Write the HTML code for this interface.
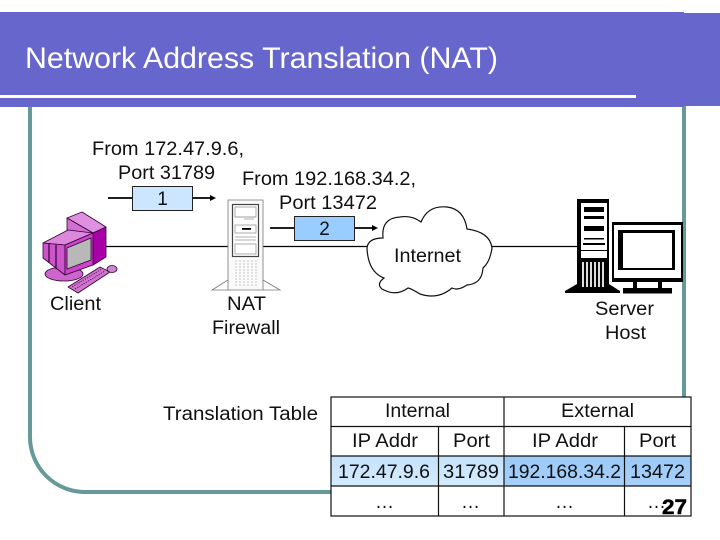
<!DOCTYPE html>
<html>
<head>
<meta charset="utf-8">
<style>
html,body{margin:0;padding:0;background:#fff;width:720px;height:540px;overflow:hidden}
svg{display:block}
text{font-family:"Liberation Sans",Arial,sans-serif;font-size:19px;fill:#111}
</style>
</head>
<body>
<svg width="720" height="540" viewBox="0 0 720 540" xmlns="http://www.w3.org/2000/svg">
<defs>
<linearGradient id="g1" x1="0" y1="0" x2="0" y2="1"><stop offset="0" stop-color="#c4e2fb"/><stop offset="1" stop-color="#d4ebff"/></linearGradient>
<linearGradient id="g2" x1="0" y1="0" x2="0" y2="1"><stop offset="0" stop-color="#9cc9f6"/><stop offset="1" stop-color="#a6d0fa"/></linearGradient>
</defs>
<rect width="720" height="540" fill="#fff"/>

<!-- Frame -->
<path d="M30 105V437A55 55 0 0 0 85 492H335" fill="none" stroke="#669999" stroke-width="4"/>
<path d="M684 105V400" fill="none" stroke="#669999" stroke-width="4"/>

<!-- Header -->
<rect x="0" y="12" width="684" height="95" fill="#6666cc"/>
<rect x="684" y="13" width="36" height="93" fill="#6666cc"/>
<rect x="0" y="95" width="636" height="3" fill="#fff"/>
<text x="25" y="68" style="font-size:30px;fill:#fff" textLength="473" lengthAdjust="spacingAndGlyphs">Network Address Translation (NAT)</text>

<!-- Connection lines -->
<g stroke="#000" fill="none">
<path d="M106 246.500H230M262 246.500H370M491 246.500H582" stroke-width="1.200"/>
<path d="M108 198H132M193 198H212M270 228H294M355 228H374" stroke-width="1.800"/>
</g>
<path d="M216 198l-6-3v6zM378 228l-6-3v6z" fill="#000"/>

<!-- Top labels -->
<text x="92" y="155" textLength="152" lengthAdjust="spacingAndGlyphs">From 172.47.9.6,</text>
<text x="118" y="179" textLength="97" lengthAdjust="spacingAndGlyphs">Port 31789</text>
<text x="242" y="185" textLength="174" lengthAdjust="spacingAndGlyphs">From 192.168.34.2,</text>
<text x="279" y="209" textLength="98" lengthAdjust="spacingAndGlyphs">Port 13472</text>

<rect x="132.500" y="186.500" width="60" height="24" fill="#cce6ff" stroke="#222" stroke-width="1"/>
<text x="162.500" y="205" text-anchor="middle">1</text>
<rect x="294.500" y="216.500" width="60" height="24" fill="#99ccff" stroke="#222" stroke-width="1"/>
<text x="324.500" y="235" text-anchor="middle">2</text>

<!-- Client -->
<g stroke="#330033" stroke-width="0.8" stroke-linejoin="round">
<ellipse cx="64" cy="274" rx="19" ry="7" fill="#cc66cc"/>
<polygon points="67,218 82,212 106,227 93,233" fill="#e090e0"/>
<polygon points="67,218 93,233 93,265 67,250" fill="#d070d0"/>
<polygon points="93,233 106,227 106,257 93,265" fill="#aa00aa"/>
<polygon points="43,243 68,230 93,233 65,245" fill="#dd88dd"/>
<polygon points="43,243 65,245 65,275 43,258" fill="#cc55cc"/>
<polygon points="65,245 93,233 93,265 65,275" fill="#cc44cc"/>
<path d="M49 244V263M56 245V269" stroke="#330033" stroke-width="1.200" fill="none"/>
<polygon points="67,248 91,238 91,260 67,269" fill="#b8b8b8"/>
<polygon points="68,287 100,267 110,272 78,293" fill="#cc77cc"/>
<ellipse cx="112" cy="269" rx="5" ry="3.500" fill="#cc88cc"/>
</g>
<path d="M72 287L102 269M75 289L105 271" stroke="#660066" stroke-width="0.800" stroke-dasharray="1.500 1"/>
<text x="50" y="310" textLength="51" lengthAdjust="spacingAndGlyphs">Client</text>

<!-- Firewall -->
<g fill="none" stroke="#777" stroke-width="0.800">
<path d="M228 200H263V290H228Z" fill="#fafafa"/>
<path d="M228 280L212 290H228M263 280L280 290H263"/>
<path d="M236 260V287M240 260V287M244 260V287M248 260V287M252 260V287M256 260V287" stroke="#bbb" stroke-dasharray="2 1"/>
</g>
<rect x="232.500" y="204.500" width="26" height="52" fill="#fff" stroke="#444" stroke-width="1.200"/>
<g fill="none" stroke="#999" stroke-width="0.800">
<rect x="235" y="207" width="21" height="10"/>
<path d="M235 217H256M244 219H254"/>
<rect x="235" y="225" width="21" height="8"/>
<path d="M235 237H256M235 240H256"/>
<rect x="235" y="244" width="21" height="10"/>
</g>
<rect x="242" y="228" width="9" height="1.800" fill="#000"/>
<text x="227" y="310" textLength="39" lengthAdjust="spacingAndGlyphs">NAT</text>
<text x="212" y="334" textLength="68" lengthAdjust="spacingAndGlyphs">Firewall</text>

<!-- Cloud -->
<path d="M367 248Q368 238 383 238Q381 218 400 217Q412 215 421 222Q428 205 447 207Q464 209 467 229Q490 232 492 248Q490 262 483 268Q482 284 467 285Q458 291 452 288Q438 300 420 294Q410 288 408 288Q396 297 382 289Q376 284 384 278Q368 272 367 248Z" fill="#fff" stroke="#111" stroke-width="1.200"/>
<text x="394" y="262" textLength="67" lengthAdjust="spacingAndGlyphs">Internet</text>

<!-- Server -->
<g>
<polygon points="577,284 565,291 565,293 620,293 620,291 609,284" fill="#000"/>
<rect x="577" y="199" width="32" height="92" fill="#000"/>
<rect x="581" y="203" width="26" height="55" fill="#fff"/>
<rect x="584" y="207" width="20" height="5" fill="#000"/>
<rect x="584" y="216" width="20" height="3" fill="#000"/>
<rect x="584" y="226" width="20" height="5" fill="#000"/>
<rect x="584" y="238" width="20" height="1.500" fill="#000"/>
<rect x="583" y="243" width="22" height="2" fill="#000"/>
<rect x="581" y="250" width="26" height="1" fill="#000"/>
<g fill="#ddd"><rect x="582" y="262" width="2" height="25"/><rect x="586" y="262" width="2" height="25"/><rect x="590" y="262" width="2" height="25"/><rect x="594" y="262" width="2" height="25"/><rect x="598" y="262" width="2" height="25"/><rect x="602" y="262" width="2" height="25"/></g>
<rect x="612" y="222" width="71" height="60" fill="#000"/>
<rect x="614" y="225" width="67" height="53" fill="#fff"/>
<rect x="618" y="230" width="57" height="40" fill="#000"/>
<rect x="623" y="233" width="49" height="35" fill="#fff"/>
<rect x="633" y="282" width="4" height="7" fill="#000"/>
<rect x="658" y="282" width="4" height="7" fill="#000"/>
<rect x="623" y="288" width="49" height="5.500" fill="#000"/>
</g>
<text x="595" y="315" textLength="59" lengthAdjust="spacingAndGlyphs">Server</text>
<text x="605" y="339" textLength="41" lengthAdjust="spacingAndGlyphs">Host</text>

<!-- Translation table -->
<text x="163" y="420" textLength="155" lengthAdjust="spacingAndGlyphs">Translation Table</text>
<rect x="331" y="397" width="360" height="119" fill="#fff"/>
<rect x="331" y="456" width="173" height="30" fill="url(#g1)"/>
<rect x="504" y="456" width="187" height="30" fill="url(#g2)"/>
<g stroke="#111" stroke-width="1.200" fill="none">
<rect x="331" y="397" width="360" height="119"/>
<path d="M331 426.500H691M331 456H691M331 486H691"/>
<path d="M504 397V516M438.500 426.500V516M624.500 426.500V516"/>
</g>
<text x="385" y="417" textLength="65" lengthAdjust="spacingAndGlyphs">Internal</text>
<text x="561" y="417" textLength="73" lengthAdjust="spacingAndGlyphs">External</text>
<text x="352" y="447" textLength="66" lengthAdjust="spacingAndGlyphs">IP Addr</text>
<text x="453" y="447" textLength="37" lengthAdjust="spacingAndGlyphs">Port</text>
<text x="532" y="447" textLength="66" lengthAdjust="spacingAndGlyphs">IP Addr</text>
<text x="639" y="447" textLength="37" lengthAdjust="spacingAndGlyphs">Port</text>
<text x="338" y="478" textLength="92" lengthAdjust="spacingAndGlyphs">172.47.9.6</text>
<text x="443" y="478" textLength="56" lengthAdjust="spacingAndGlyphs">31789</text>
<text x="508" y="478" textLength="113" lengthAdjust="spacingAndGlyphs">192.168.34.2</text>
<text x="630" y="478" textLength="55" lengthAdjust="spacingAndGlyphs">13472</text>
<text x="375" y="508">…</text>
<text x="461" y="508">…</text>
<text x="555" y="508">…</text>
<text x="647" y="508">…</text>
<text x="662" y="514" style="font-size:21px;font-weight:bold;fill:#000;stroke:#000;stroke-width:.5" textLength="25" lengthAdjust="spacingAndGlyphs">27</text>
</svg>
</body>
</html>
